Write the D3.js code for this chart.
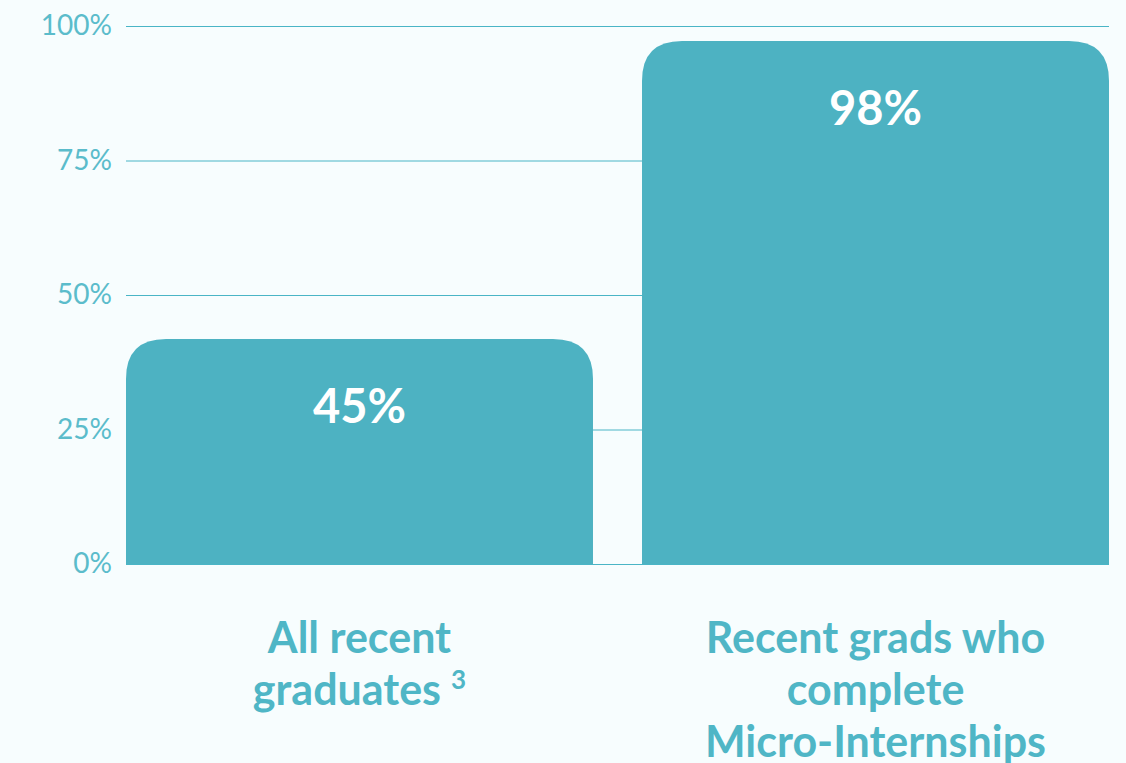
<!DOCTYPE html>
<html>
<head>
<meta charset="utf-8">
<script src="https://cdn.jsdelivr.net/npm/d3@7"></script>
<style>
  html, body { margin: 0; padding: 0; background: #f7fdfe; }
  svg { display: block; font-family: Lato, "Open Sans", sans-serif; }
</style>
</head>
<body>
<div id="container"></div>
<script>
/* DATA */
const categories = ["All recent graduates", "Recent grads who complete Micro-Internships"];
const categoryLines = [["All recent", "graduates"], ["Recent grads who", "complete", "Micro-Internships"]];
const barValues = [41.8, 97.2];          // bar heights as drawn
const barLabels = ["45%", "98%"];
const tickValues = [0, 25, 50, 75, 100];

/* CONSTANTS */
const width = 1126;
const height = 763;
const margin = { top: 26, right: 17, bottom: 199, left: 126 };
const barColor = "#4db2c2";
const textColor = "#4fb6c6";

const svg = d3.select("#container")
  .append("svg")
  .attr("width", width)
  .attr("height", height);

/* SCALES */
const yScale = d3.scaleLinear()
  .domain([0, 100])
  .range([height - margin.bottom, margin.top]);

const xScale = d3.scaleBand()
  .domain(categories)
  .range([margin.left, width - margin.right])
  .paddingInner(0.095)
  .paddingOuter(0);

/* GRID + Y AXIS */
const yAxis = d3.axisLeft(yScale)
  .tickValues(tickValues)
  .tickFormat(d => d + "%")
  .tickSize(-(width - margin.left - margin.right))
  .tickPadding(14);

svg.append("g")
  .attr("transform", `translate(${margin.left}, 0)`)
  .call(yAxis)
  .call(g => g.select(".domain").remove())
  .call(g => g.selectAll("line").attr("stroke", "#4ab5c6").attr("stroke-width", 1))
  .call(g => g.selectAll("text")
    .attr("fill", "#5bbccb")
    .style("font-size", "28px")
    .style("font-family", "Lato, sans-serif"));

/* BARS: rounded top corners */
const r = 40;
function topRounded(x, y, w, h) {
  return `M${x},${y + h} L${x},${y + r} Q${x},${y} ${x + r},${y} L${x + w - r},${y} Q${x + w},${y} ${x + w},${y + r} L${x + w},${y + h} Z`;
}

svg.selectAll(".bar")
  .data(categories)
  .join("path")
  .attr("class", "bar")
  .attr("fill", barColor)
  .attr("d", (d, i) => {
    const y = yScale(barValues[i]);
    return topRounded(xScale(d), y, xScale.bandwidth(), yScale(0) - y);
  });

/* VALUE LABELS */
svg.selectAll(".value")
  .data(categories)
  .join("text")
  .attr("class", "value")
  .attr("x", d => xScale(d) + xScale.bandwidth() / 2)
  .attr("y", (d, i) => yScale(barValues[i]) + 84)
  .attr("text-anchor", "middle")
  .attr("fill", "#ffffff")
  .style("font-size", "47px")
  .style("font-weight", "bold")
  .text((d, i) => barLabels[i]);

/* CATEGORY LABELS */
categories.forEach((c, i) => {
  const t = svg.append("text")
    .attr("x", xScale(c) + xScale.bandwidth() / 2)
    .attr("y", 653)
    .attr("text-anchor", "middle")
    .attr("fill", textColor)
    .style("font-size", "43px")
    .style("font-weight", "bold");
  categoryLines[i].forEach((line, j) => {
    const ts = t.append("tspan")
      .attr("x", xScale(c) + xScale.bandwidth() / 2)
      .attr("dy", j === 0 ? 0 : 52)
      .text(line);
    if (i === 0 && j === 1) {
      ts.append("tspan")
        .attr("dx", 10)
        .attr("dy", -16)
        .style("font-size", "26px")
        .text("3");
    }
  });
});
</script>
</body>
</html>
